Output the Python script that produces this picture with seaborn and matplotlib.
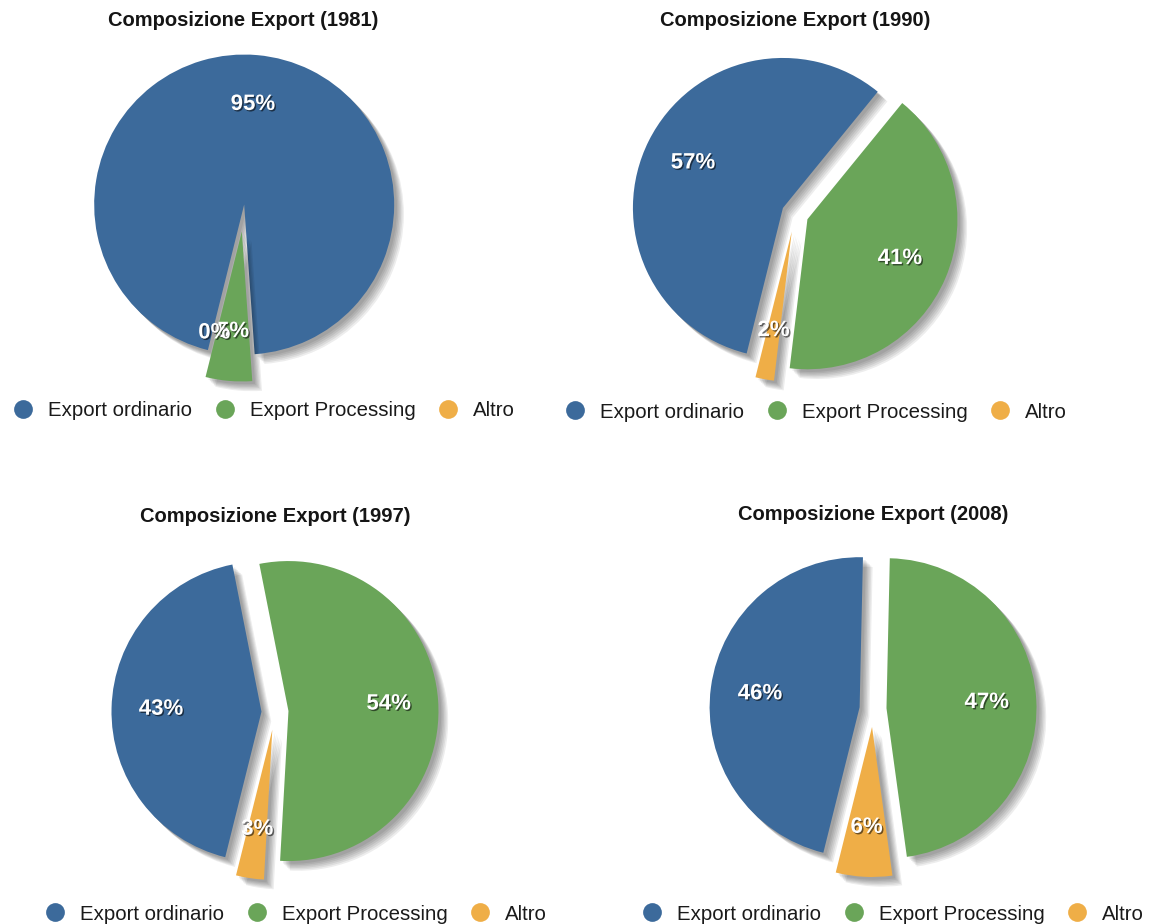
import numpy as np
import pandas as pd
import matplotlib
matplotlib.use("Agg")
import matplotlib.pyplot as plt
import matplotlib.patheffects as pe
from matplotlib.lines import Line2D
import seaborn as sns

# ── data ──────────────────────────────────────────────────────────────────────
YEARS             = ["1981", "1990", "1997", "2008"]
CATEGORIES        = ["Export ordinario", "Export Processing", "Altro"]
EXPORT_ORDINARIO  = [95, 57, 43, 46]
EXPORT_PROCESSING = [5, 41, 54, 47]
ALTRO             = [0, 2, 3, 6]

df = pd.DataFrame({
    "year": YEARS,
    CATEGORIES[0]: EXPORT_ORDINARIO,
    CATEGORIES[1]: EXPORT_PROCESSING,
    CATEGORIES[2]: ALTRO,
}).set_index("year")

# ── style ─────────────────────────────────────────────────────────────────────
BLUE   = "#3c6a9b"
GREEN  = "#6aa559"
ORANGE = "#efae47"
COLORS = [BLUE, GREEN, ORANGE]

sns.set_theme(style="white")
sns.set_palette(COLORS)
plt.rcParams["font.family"] = ["Liberation Sans", "DejaVu Sans"]

W, H = 1166, 924
R_PX = 150                     # pie radius in pixels
HALF = 1.1333                  # axes half-extent in data units
SIDE = 2 * HALF * R_PX

# pie centre (px from top-left), title row and legend centre for each panel
PIE_POS    = {"1981": (243, 218), "1990": (795, 214),
              "1997": (275, 712), "2008": (873, 709)}
TITLE_PX_Y = {"1981": 20, "1990": 20, "1997": 516, "2008": 514}
LEGEND_POS = {"1981": (264, 411), "1990": (816, 412),
              "1997": (296, 914), "2008": (893, 914)}

label_fx = [pe.SimplePatchShadow(offset=(1, -1), shadow_rgbFace="black", alpha=0.55),
            pe.Normal()]
wedge_fx = [pe.SimplePatchShadow(offset=(o, -o), shadow_rgbFace="black", alpha=0.07)
            for o in (7, 6, 5, 4, 3, 2)] + [pe.Normal()]

fig = plt.figure(figsize=(W / 100, H / 100), dpi=100)
fig.patch.set_facecolor("white")

for year in YEARS:
    cx, cy = PIE_POS[year]
    ax = fig.add_axes([(cx - SIDE / 2) / W, (H - cy - SIDE / 2) / H, SIDE / W, SIDE / H])
    vals = df.loc[year, CATEGORIES].values.astype(float)

    wedges, texts, autotexts = ax.pie(
        vals, colors=COLORS, startangle=256, counterclock=False,
        explode=[0.09, 0.09, 0.12], radius=1.0,
        autopct="%1.0f%%", pctdistance=0.67,
        wedgeprops={"linewidth": 0},
        textprops={"color": "white", "fontsize": 16, "fontweight": "bold"},
    )
    for w in wedges:
        w.set_path_effects(wedge_fx)
    for t in autotexts:
        t.set_path_effects(label_fx)

    ax.set_xlim(-HALF, HALF)
    ax.set_ylim(-HALF, HALF)
    ax.set_aspect("equal")
    ax.axis("off")

    fig.text(cx / W, 1 - TITLE_PX_Y[year] / H, f"Composizione Export ({year})",
             ha="center", va="center", fontsize=14.5, fontweight="bold", color="#151515")

    handles = [Line2D([], [], marker="o", linestyle="", markersize=13.5,
                      markerfacecolor=c, markeredgewidth=0) for c in COLORS]
    lx, ly = LEGEND_POS[year]
    ax.legend(handles, CATEGORIES, loc="center", bbox_to_anchor=(lx / W, 1 - ly / H),
              bbox_transform=fig.transFigure, ncol=3, frameon=False,
              fontsize=14.7, handlelength=1.0, handletextpad=0.72,
              columnspacing=1.1, borderpad=0, borderaxespad=0, labelcolor="#1a1a1a")

fig.savefig("out.png", dpi=100, facecolor="white")
